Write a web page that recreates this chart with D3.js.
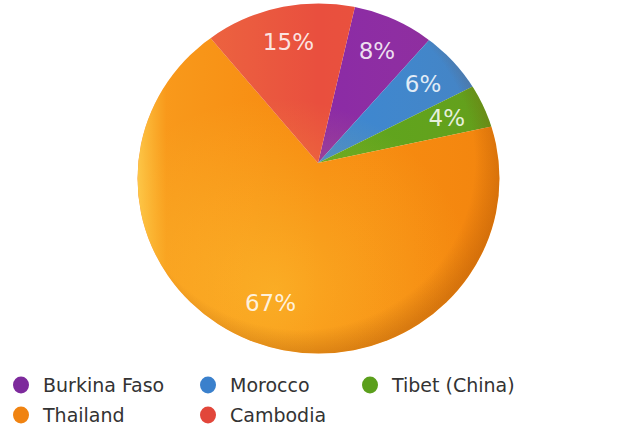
<!DOCTYPE html>
<html><head><meta charset="utf-8">
<script src="https://cdn.jsdelivr.net/npm/d3@7"></script>
<style>body{margin:0;background:#fff;}svg{display:block;}</style>
</head><body>
<svg id="c" width="636" height="432"></svg>
<script>
const categories = ["Burkina Faso", "Morocco", "Tibet (China)", "Thailand", "Cambodia"];
const values = [8, 6, 4, 67, 15];
const labels = ["8%", "6%", "4%", "67%", "15%"];
const colors = ["#8b2aa6", "#3b86d2", "#5ca41d", "#f7890f", "#e94f3e"];
const legendColors = ["#7d2a9c", "#3a80cc", "#5b9f1c", "#f08311", "#e2463a"];

const svg = d3.select("#c");
const defs = svg.append("defs");
const cx = 318, cy = 163;         // convergence point of slices
const ex = 318.5, ey = 178.5, rx = 181, ry = 175; // pie outline ellipse

defs.append("clipPath").attr("id", "pieClip")
  .append("ellipse").attr("cx", ex).attr("cy", ey).attr("rx", rx).attr("ry", ry);

const shade = defs.append("radialGradient").attr("id", "shade")
  .attr("cx", "45%").attr("cy", "45%").attr("r", "56%");
shade.append("stop").attr("offset", "0%").attr("stop-color", "#000").attr("stop-opacity", 0);
shade.append("stop").attr("offset", "86%").attr("stop-color", "#7a3000").attr("stop-opacity", 0.0);
shade.append("stop").attr("offset", "100%").attr("stop-color", "#8a3a00").attr("stop-opacity", 0.28);

const hl = defs.append("radialGradient").attr("id", "hl")
  .attr("cx", "38%").attr("cy", "82%").attr("r", "55%");
hl.append("stop").attr("offset", "0%").attr("stop-color", "#ffd23a").attr("stop-opacity", 0.45);
hl.append("stop").attr("offset", "100%").attr("stop-color", "#ffd23a").attr("stop-opacity", 0);

const hl2 = defs.append("linearGradient").attr("id", "hl2")
  .attr("x1", "0%").attr("x2", "100%").attr("y1", "0%").attr("y2", "0%");
hl2.append("stop").attr("offset", "0%").attr("stop-color", "#ffe060").attr("stop-opacity", 0.7);
hl2.append("stop").attr("offset", "8%").attr("stop-color", "#ffd84a").attr("stop-opacity", 0.2);
hl2.append("stop").attr("offset", "50%").attr("stop-color", "#ffd84a").attr("stop-opacity", 0);
hl2.append("stop").attr("offset", "100%").attr("stop-color", "#c05000").attr("stop-opacity", 0.08);

const startDeg = 13.3;
const pie = d3.pie().sort(null).value(d => d)
  .startAngle(startDeg * Math.PI / 180).endAngle((startDeg + 360) * Math.PI / 180);
const arcs = pie(values);
const arc = d3.arc().innerRadius(0).outerRadius(260);

const g = svg.append("g").attr("clip-path", "url(#pieClip)");
g.selectAll("path.slice").data(arcs).enter().append("path")
  .attr("class", "slice")
  .attr("transform", `translate(${cx},${cy})`)
  .attr("d", arc)
  .attr("fill", (d, i) => colors[i]);
g.append("ellipse").attr("cx", ex).attr("cy", ey).attr("rx", rx).attr("ry", ry).attr("fill", "url(#hl)");
g.append("ellipse").attr("cx", ex).attr("cy", ey).attr("rx", rx).attr("ry", ry).attr("fill", "url(#hl2)");
g.append("ellipse").attr("cx", ex).attr("cy", ey).attr("rx", rx).attr("ry", ry).attr("fill", "url(#shade)");

// distance from convergence point to ellipse edge along angle a (clockwise from north)
function edgeDist(a) {
  const dx = Math.sin(a), dy = -Math.cos(a);
  const px = (cx - ex) / rx, py = (cy - ey) / ry;
  const qx = dx / rx, qy = dy / ry;
  const A = qx * qx + qy * qy, B = 2 * (px * qx + py * qy), C = px * px + py * py - 1;
  return (-B + Math.sqrt(B * B - 4 * A * C)) / (2 * A);
}
svg.selectAll("text.lbl").data(arcs).enter().append("text")
  .attr("class", "lbl")
  .each(function (d, i) {
    const a = (d.startAngle + d.endAngle) / 2;
    const r = edgeDist(a) * 0.78;
    d3.select(this).attr("x", cx + r * Math.sin(a)).attr("y", cy - r * Math.cos(a));
  })
  .attr("text-anchor", "middle").attr("dominant-baseline", "central")
  .attr("font-family", "DejaVu Sans, Verdana, sans-serif").attr("font-size", 23)
  .attr("fill", "#fff").attr("fill-opacity", 0.85)
  .text((d, i) => labels[i]);

// legend
const colX = [21, 208, 370];
const rowY = [385, 415];
const legend = svg.selectAll("g.leg").data(categories).enter().append("g")
  .attr("class", "leg")
  .attr("transform", (d, i) => `translate(${colX[i % 3]},${rowY[Math.floor(i / 3)]})`);
legend.append("ellipse").attr("rx", 8).attr("ry", 8.5).attr("fill", (d, i) => legendColors[i]);
legend.append("text").attr("x", 22).attr("dy", "0.35em")
  .attr("font-family", "DejaVu Sans, Verdana, sans-serif").attr("font-size", 19)
  .attr("fill", "#333").text(d => d);
</script>
</body></html>
